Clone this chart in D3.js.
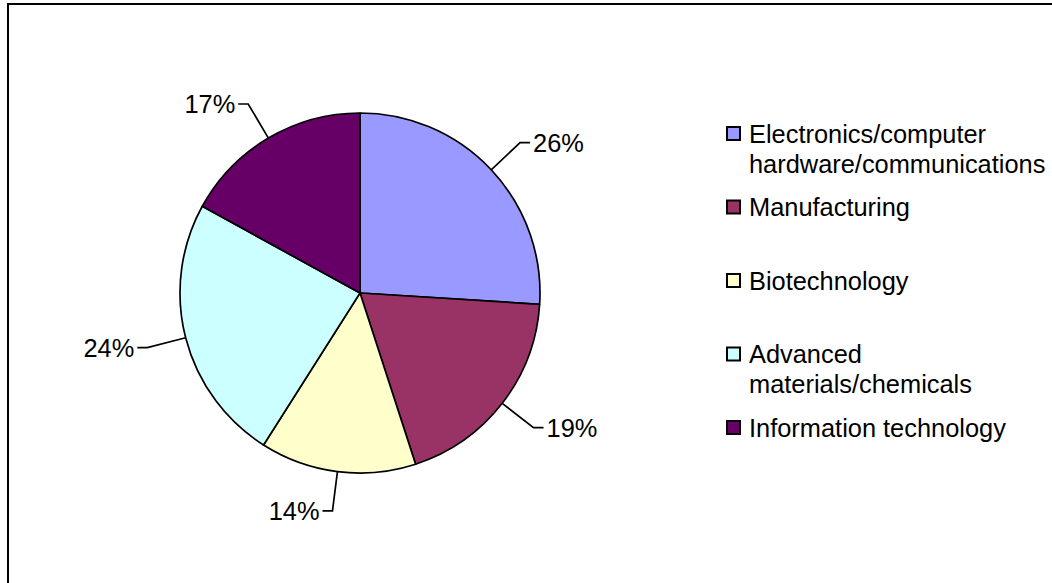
<!DOCTYPE html>
<html>
<head>
<meta charset="utf-8">
<script src="https://cdn.jsdelivr.net/npm/d3@7"></script>
<style>
    body { margin: 0; background: #fff; }
    svg { display: block; font-family: "Liberation Sans", Arial, sans-serif; }
</style>
</head>
<body>
<svg id="chart" width="1052" height="583"></svg>
<script>
// chart data, clockwise from 12 o'clock
const categories = [
    "Electronics/computer hardware/communications",
    "Manufacturing",
    "Biotechnology",
    "Advanced materials/chemicals",
    "Information technology"
];
const legendLines = [
    ["Electronics/computer", "hardware/communications"],
    ["Manufacturing"],
    ["Biotechnology"],
    ["Advanced", "materials/chemicals"],
    ["Information technology"]
];
const shares = [26, 19, 14, 24, 17];
const colors = ["#9999FF", "#993366", "#FFFFCC", "#CCFFFF", "#660066"];

const svg = d3.select("#chart");
const fontSize = 25.4;

// outer frame (only top and left edge are visible in the crop)
svg.append("rect")
    .attr("x", 8).attr("y", 4)
    .attr("width", 1200).attr("height", 800)
    .attr("fill", "none")
    .attr("stroke", "#000")
    .attr("stroke-width", 2);

const cx = 360, cy = 293, radius = 180;

const pie = d3.pie().sort(null).value(function(d) { return d; });
const arc = d3.arc().innerRadius(0).outerRadius(radius);
const arcs = pie(shares);

const g = svg.append("g").attr("transform", "translate(" + cx + "," + cy + ")");

g.selectAll("path.slice")
    .data(arcs)
    .enter()
    .append("path")
    .attr("class", "slice")
    .attr("d", arc)
    .attr("fill", function(d, i) { return colors[i]; })
    .attr("stroke", "#000")
    .attr("stroke-width", 1.7)
    .attr("stroke-linejoin", "round");

// leader lines + percent labels
const edgeArc = d3.arc().innerRadius(radius).outerRadius(radius);
const elbowArc = d3.arc().innerRadius(radius * 1.22).outerRadius(radius * 1.22);
const stub = 10;

arcs.forEach(function(d, i) {
    const a = edgeArc.centroid(d);
    const b = elbowArc.centroid(d);
    const right = b[0] > 0;
    const c = [b[0] + (right ? stub : -stub), b[1]];

    g.append("polyline")
        .attr("points", [a, b, c].map(function(p) { return p.join(","); }).join(" "))
        .attr("fill", "none")
        .attr("stroke", "#000")
        .attr("stroke-width", 1.7);

    g.append("text")
        .attr("x", c[0] + (right ? 3 : -3))
        .attr("y", c[1])
        .attr("dy", "0.36em")
        .attr("text-anchor", right ? "start" : "end")
        .attr("font-size", fontSize)
        .attr("fill", "#000")
        .text(d3.format(".0%")(d.data / d3.sum(shares)));
});

// legend
const legendY = d3.scalePoint()
    .domain(categories)
    .range([133.5, 427.5]);

const legend = svg.append("g");
const items = legend.selectAll("g.item")
    .data(categories)
    .enter()
    .append("g")
    .attr("class", "item")
    .attr("transform", function(d) { return "translate(726," + legendY(d) + ")"; });

items.append("rect")
    .attr("x", 1).attr("y", -6.5)
    .attr("width", 13).attr("height", 13)
    .attr("fill", function(d, i) { return colors[i]; })
    .attr("stroke", "#000")
    .attr("stroke-width", 2);

items.append("text")
    .attr("x", 23)
    .attr("y", 0)
    .attr("font-size", fontSize)
    .attr("fill", "#000")
    .selectAll("tspan")
    .data(function(d, i) { return legendLines[i]; })
    .enter()
    .append("tspan")
    .attr("x", 23)
    .attr("dy", function(d, j) { return j === 0 ? "0.36em" : "1.18em"; })
    .text(function(d) { return d; });
</script>
</body>
</html>
